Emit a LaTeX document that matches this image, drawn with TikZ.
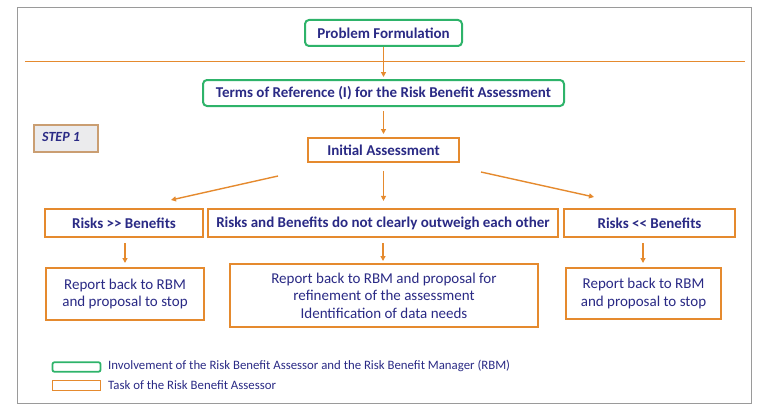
\documentclass[tikz,border=0pt]{standalone}
\usepackage{fontspec}
\setmainfont{Carlito}
\usetikzlibrary{arrows.meta}
\definecolor{grn}{HTML}{2EB36A}
\definecolor{org}{HTML}{E58A2E}
\definecolor{txt}{HTML}{2A2A85}
\definecolor{frm}{HTML}{9A9A9A}
\tikzset{
  gbox/.style={draw=grn, line width=2pt, rounded corners=4pt, fill=white, text=txt, font=\fontsize{15}{17}\selectfont\bfseries, inner sep=0pt, align=center},
  obox/.style={draw=org, line width=1.8pt, fill=white, text=txt, font=\fontsize{15}{17}\selectfont\bfseries, inner sep=0pt, align=center},
  rbox/.style={draw=org, line width=1.8pt, fill=white, text=txt, font=\fontsize{15}{17.5}\selectfont, inner sep=0pt, align=center},
  arr/.style={draw=org, line width=1.4pt, -{Triangle[length=5pt,width=5pt]}},
  legtxt/.style={text=txt, font=\fontsize{12.8}{14}\selectfont, anchor=west, inner sep=0pt},
}
\begin{document}
\begin{tikzpicture}[x=1pt,y=-1pt]
\useasboundingbox (0,0) rectangle (759,412);
\draw[frm, line width=1pt] (17,8) rectangle (751,403);
\draw[org, line width=1pt] (25,61) -- (745,61);

\node[gbox, minimum width=157pt, minimum height=26pt] (pf) at (383.5,33) {Problem Formulation};
\node[gbox, minimum width=361pt, minimum height=26pt] (tor) at (383.5,93) {Terms of Reference (I) for the Risk Benefit Assessment};
\node[draw=org!60!gray!80, line width=1.5pt, fill=blue!5!gray!15, minimum width=64pt, minimum height=27pt, inner sep=0pt] (step) at (66,138.5) {};
\node[text=txt, font=\fontsize{14}{16}\selectfont\bfseries\itshape, anchor=west, inner sep=0pt] (steptxt) at (42,137) {STEP 1};
\node[obox, minimum width=151pt, minimum height=24pt] (ia) at (383.5,150) {Initial Assessment};

\node[obox, minimum width=158pt, minimum height=28pt] (rb) at (124,223) {Risks >\kern0pt> Benefits};
\node[obox, minimum width=350pt, minimum height=28pt] (rm) at (383,223) {Risks and Benefits do not clearly outweigh each other};
\node[obox, minimum width=171pt, minimum height=28pt] (br) at (649.5,223) {Risks <\kern0pt< Benefits};

\node[rbox, minimum width=158pt, minimum height=52pt] (r1) at (125,294) {Report back to RBM\\and proposal to stop};
\node[rbox, minimum width=308pt, minimum height=63pt] (r2) at (384,295.5) {Report back to RBM and proposal for\\refinement of the assessment\\Identification of data needs};
\node[rbox, minimum width=155pt, minimum height=51pt] (r3) at (643.5,293.5) {Report back to RBM\\and proposal to stop};

% arrows
\draw[arr] (pf.south) -- ([yshift=-30pt]pf.south);
\coordinate (t1) at ([yshift=-4pt]tor.south);
\draw[arr] (t1) -- ([yshift=-27pt]tor.south);
\coordinate (l1) at (278,176); \coordinate (l2) at (171,200);
\draw[arr] (l1) -- (l2);
\coordinate (c1) at ([yshift=-8pt]ia.south); \coordinate (c2) at ([yshift=-38pt]ia.south);
\draw[arr] (c1) -- (c2);
\coordinate (q1) at (481,172); \coordinate (q2) at (594,197);
\draw[arr] (q1) -- (q2);
\coordinate (a1) at (125,243); \coordinate (a2) at (125,263);
\draw[arr] (a1) -- (a2);
\coordinate (b1) at (383,243); \coordinate (b2) at (383,261);
\draw[arr] (b1) -- (b2);
\coordinate (d1) at (643,243); \coordinate (d2) at (643,263);
\draw[arr] (d1) -- (d2);

% legend
\node[draw=grn, line width=1.8pt, rounded corners=2pt, minimum width=48pt, minimum height=9.5pt, inner sep=0pt] (lg) at (76.5,367) {};
\node[legtxt] (lgt) at (108,366) {Involvement of the Risk Benefit Assessor and the Risk Benefit Manager (RBM)};
\node[draw=org, line width=1.8pt, minimum width=48pt, minimum height=10pt, inner sep=0pt] (lo) at (76.5,385.5) {};
\node[legtxt] (lot) at (108,385.5) {Task of the Risk Benefit Assessor};
\end{tikzpicture}
\end{document}
